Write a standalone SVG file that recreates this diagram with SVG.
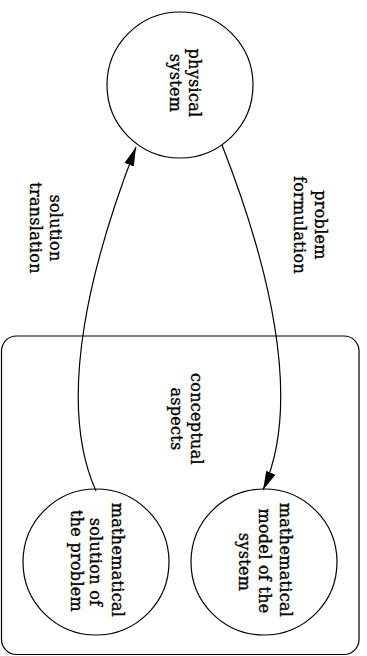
<svg xmlns="http://www.w3.org/2000/svg" width="367" height="656" viewBox="0 0 367 656">
<style>
.node{fill:none;stroke:#000;stroke-width:1.2}
.edge{fill:none;stroke:#000;stroke-width:1.2}
text{font-family:"DejaVu Serif","Liberation Serif",serif;font-size:16px;fill:#000;stroke:#000;stroke-width:0.35;letter-spacing:0.3px;text-anchor:middle}
</style>
<defs>
<marker id="ah" markerUnits="userSpaceOnUse" markerWidth="20" markerHeight="12" viewBox="0 0 20 12" refX="19" refY="6" orient="auto">
<path d="M0,1 L19,6 L0,11 Z" fill="#000"/>
</marker>
</defs>
<rect width="367" height="656" fill="#fff"/>
<g id="cluster">
<rect x="1.5" y="336" width="357.5" height="318.5" rx="15" ry="15" class="node"/>
<text transform="translate(191,419) rotate(90)">conceptual</text>
<text transform="translate(171,419) rotate(90)">aspects</text>
</g>
<g id="physical">
<circle cx="180" cy="85" r="73" class="node"/>
<text transform="translate(189,83) rotate(90)">physical</text>
<text transform="translate(170,83) rotate(90)">system</text>
</g>
<g id="model">
<circle cx="264" cy="562" r="73" class="node"/>
<text transform="translate(280,560) rotate(90)">mathematical</text>
<text transform="translate(259,561) rotate(90)">model of the</text>
<text transform="translate(239,562) rotate(90)">system</text>
</g>
<g id="solution">
<circle cx="96" cy="562" r="73" class="node"/>
<text transform="translate(112,560) rotate(90)">mathematical</text>
<text transform="translate(90,562) rotate(90)">solution of</text>
<text transform="translate(71,561) rotate(90)">the problem</text>
</g>
<g id="edges">
<path class="edge" d="M222,145 C267,260 304,400 263,490" marker-end="url(#ah)"/>
<path class="edge" d="M96,491 C55,400 92,260 136,147" marker-end="url(#ah)"/>
<text transform="translate(315,225) rotate(90)">problem</text>
<text transform="translate(294,225) rotate(90)">formulation</text>
<text transform="translate(50,228) rotate(90)">solution</text>
<text transform="translate(30,228) rotate(90)">translation</text>
</g>
</svg>
